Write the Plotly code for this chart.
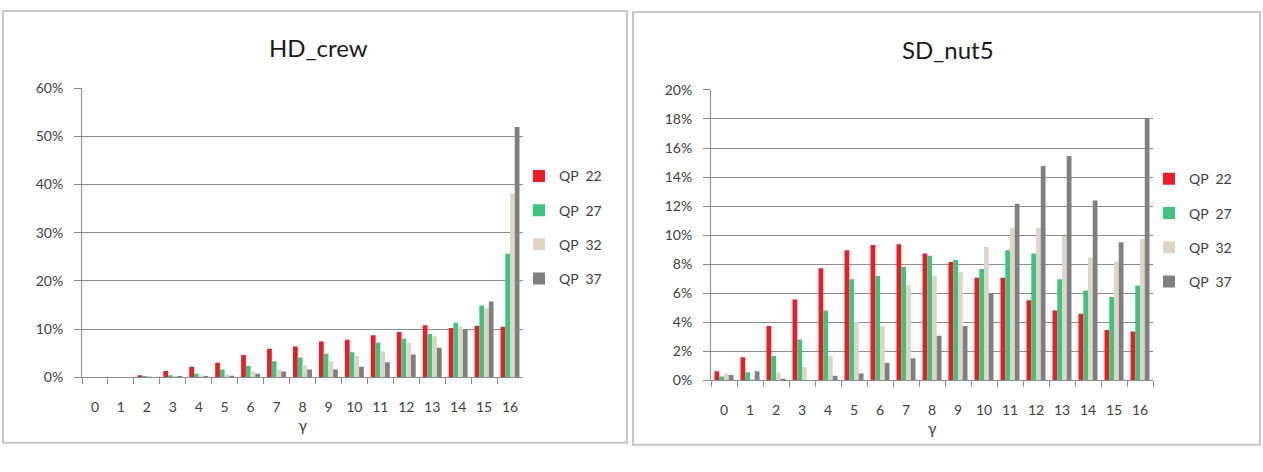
import plotly.graph_objects as go

W, H = 1263, 472

gamma = [str(i) for i in range(17)]
series_names = ["QP  22", "QP  27", "QP  32", "QP  37"]
colors = ["#EC1C24", "#3DC47E", "#DDD6C4", "#7F7F7F"]

# HD_crew (fractions)
hd_qp22 = [0.000, 0.000, 0.004, 0.013, 0.022, 0.030, 0.046, 0.059, 0.064, 0.074, 0.078, 0.087, 0.094, 0.108, 0.102, 0.107, 0.105]
hd_qp27 = [0.000, 0.000, 0.001, 0.004, 0.007, 0.016, 0.024, 0.033, 0.041, 0.049, 0.052, 0.072, 0.080, 0.090, 0.113, 0.149, 0.256]
hd_qp32 = [0.000, 0.000, 0.001, 0.002, 0.004, 0.006, 0.012, 0.016, 0.025, 0.033, 0.044, 0.054, 0.071, 0.085, 0.105, 0.144, 0.381]
hd_qp37 = [0.000, 0.000, 0.000, 0.001, 0.001, 0.003, 0.007, 0.012, 0.016, 0.016, 0.022, 0.031, 0.047, 0.061, 0.099, 0.157, 0.519]

# SD_nut5 (fractions)
sd_qp22 = [0.0062, 0.0158, 0.0373, 0.0555, 0.0772, 0.0895, 0.0932, 0.0937, 0.0872, 0.0815, 0.0706, 0.0706, 0.0550, 0.0480, 0.0457, 0.0346, 0.0335]
sd_qp27 = [0.0025, 0.0055, 0.0166, 0.0280, 0.0480, 0.0695, 0.0717, 0.0781, 0.0857, 0.0828, 0.0766, 0.0895, 0.0872, 0.0695, 0.0617, 0.0573, 0.0652]
sd_qp32 = [0.0045, 0.0010, 0.0050, 0.0090, 0.0166, 0.0400, 0.0373, 0.0655, 0.0721, 0.0744, 0.0917, 0.1050, 0.1050, 0.0994, 0.0846, 0.0817, 0.0972]
sd_qp37 = [0.0035, 0.0062, 0.0010, 0.0000, 0.0030, 0.0045, 0.0118, 0.0150, 0.0306, 0.0373, 0.0601, 0.1216, 0.1476, 0.1545, 0.1238, 0.0950, 0.1805]

hd = [hd_qp22, hd_qp27, hd_qp32, hd_qp37]
sd = [sd_qp22, sd_qp27, sd_qp32, sd_qp37]

FONT = "Lato"
TICKC = "#404040"
GRID = "#8C8C8C"

fig = go.Figure()

for i, (name, vals) in enumerate(zip(series_names, hd)):
    fig.add_trace(go.Bar(x=gamma, y=vals, name=name, marker=dict(color=colors[i], line=dict(width=0)),
                         xaxis="x", yaxis="y", legend="legend", legendgroup="l%d" % i))
for i, (name, vals) in enumerate(zip(series_names, sd)):
    fig.add_trace(go.Bar(x=gamma, y=vals, name=name, marker=dict(color=colors[i], line=dict(width=0)),
                         xaxis="x2", yaxis="y2", legend="legend2", legendgroup="r%d" % i))

def px_x(p):
    return p / W

def px_y(p):
    return 1 - p / H

xcommon = dict(type="category", categoryorder="array", categoryarray=gamma,
               showline=True, linecolor=GRID, linewidth=1, ticks="outside", tickson="boundaries",
               ticklen=6, tickcolor=GRID, showgrid=False, ticklabelstandoff=17,
               tickfont=dict(family=FONT, size=14, color=TICKC),
               title=dict(text="γ", font=dict(family=FONT, size=16, color=TICKC), standoff=3))
ycommon = dict(showline=True, linecolor=GRID, linewidth=1, ticks="outside", ticklen=7, tickcolor=GRID,
               showgrid=True, gridcolor=GRID, gridwidth=1, tickformat=".0%", zeroline=False,
               ticklabelstandoff=8,
               tickfont=dict(family=FONT, size=14, color=TICKC))

fig.update_layout(
    width=W, height=H,
    margin=dict(l=0, r=0, t=0, b=0),
    paper_bgcolor="white", plot_bgcolor="white",
    barmode="group", bargap=0.27, bargroupgap=0,
    font=dict(family=FONT, color=TICKC),
    xaxis=dict(domain=[px_x(82), px_x(523)], anchor="y", **xcommon),
    yaxis=dict(domain=[px_y(382), px_y(82)], anchor="x", range=[0, 0.6], dtick=0.1, **ycommon),
    xaxis2=dict(domain=[px_x(711), px_x(1153)], anchor="y2", **xcommon),
    yaxis2=dict(domain=[px_y(385), px_y(84)], anchor="x2", range=[0, 0.2], dtick=0.02, **ycommon),
    legend=dict(x=px_x(519), y=px_y(157), xanchor="left", yanchor="top", tracegroupgap=13,
                font=dict(family=FONT, size=14, color=TICKC), bgcolor="rgba(0,0,0,0)", itemwidth=30),
    legend2=dict(x=px_x(1149), y=px_y(160), xanchor="left", yanchor="top", tracegroupgap=13,
                 font=dict(family=FONT, size=14, color=TICKC), bgcolor="rgba(0,0,0,0)", itemwidth=30),
    shapes=[
        dict(type="rect", xref="paper", yref="paper", x0=px_x(3), x1=px_x(627), y0=px_y(450), y1=px_y(2),
             line=dict(color="#C8C8C8", width=2)),
        dict(type="rect", xref="paper", yref="paper", x0=px_x(633), x1=px_x(1260), y0=px_y(452), y1=px_y(3),
             line=dict(color="#C8C8C8", width=2)),
    ],
    annotations=[
        dict(text="HD_crew", xref="paper", yref="paper", x=px_x(318), y=px_y(40), showarrow=False,
             xanchor="center", yanchor="middle", font=dict(family=FONT, size=24, color="#1A1A1A")),
        dict(text="SD_nut5", xref="paper", yref="paper", x=px_x(948), y=px_y(42), showarrow=False,
             xanchor="center", yanchor="middle", font=dict(family=FONT, size=24, color="#1A1A1A")),
    ],
)

fig.write_html("out.html")
